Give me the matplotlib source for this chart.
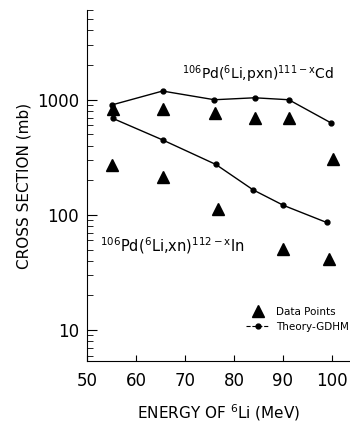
import numpy as np
import matplotlib
matplotlib.use("Agg")
import matplotlib.pyplot as plt
from matplotlib.lines import Line2D

plt.rcParams['mathtext.default'] = 'regular'

# theory curves (GDHM)
e_theory = [55, 65.4, 76, 84.2, 91.2, 99.8]
pxn_theory = [900, 1190, 1000, 1040, 1000, 630]
e_theory_xn = [55.2, 65.4, 76.3, 83.9, 90.1, 98.9]
xn_theory = [690, 448, 274, 165, 121, 86]

# measured points
e_pxn = [55.2, 65.4, 76.2, 84.2, 91.2, 100.2]
pxn_data = [830, 830, 767, 689, 694, 307]
e_xn = [55.1, 65.4, 76.8, 90.1, 99.5]
xn_data = [272, 215, 112, 50.6, 41.4]

fig = plt.figure(figsize=(3.5, 4.23), dpi=100)
ax = fig.add_axes([0.249, 0.147, 0.751, 0.829])

ax.plot(e_theory, pxn_theory, '-', color='black', lw=1.0, marker='o', ms=3.5)
ax.plot(e_theory_xn, xn_theory, '-', color='black', lw=1.0, marker='o', ms=3.5)
ax.plot(e_pxn, pxn_data, '^', color='black', ms=8, ls='none')
ax.plot(e_xn, xn_data, '^', color='black', ms=8, ls='none')

ax.set_yscale('log')
ax.set_xlim(50, 103.7)
ax.set_ylim(5.4, 6000)
ax.set_xticks([50, 60, 70, 80, 90, 100])
ax.set_yticks([10, 100, 1000])
ax.set_yticklabels(['10', '100', '1000'])
ax.tick_params(axis='both', which='both', direction='in', labelsize=12, color='black')
ax.tick_params(axis='y', which='major', length=7, pad=6)
ax.tick_params(axis='y', which='minor', length=4)
ax.tick_params(axis='x', which='major', length=4, pad=8)
ax.spines['top'].set_visible(False)
ax.spines['right'].set_visible(False)

ax.set_ylabel('CROSS SECTION (mb)', fontsize=11, labelpad=4)
ax.set_xlabel(r'ENERGY OF $^{6}$Li (MeV)', fontsize=11, labelpad=9)

ax.text(69.4, 1680, r'$^{106}$Pd($^{6}$Li,pxn)$^{111-x}$Cd', fontsize=10, va='center')
ax.text(52.7, 54.5, r'$^{106}$Pd($^{6}$Li,xn)$^{112-x}$In', fontsize=10.5, va='center')

handles = [Line2D([], [], color='black', marker='^', ms=8, ls='none'),
           Line2D([], [], color='black', marker='o', ms=3.5, ls='--', lw=0.8)]
ax.legend(handles, ['Data Points', 'Theory-GDHM'], loc='lower left',
          bbox_to_anchor=(0.59, 0.07), frameon=False, fontsize=7.5,
          handlelength=2.2, handletextpad=0.6, borderaxespad=0)

fig.savefig('out.png', dpi=100)
